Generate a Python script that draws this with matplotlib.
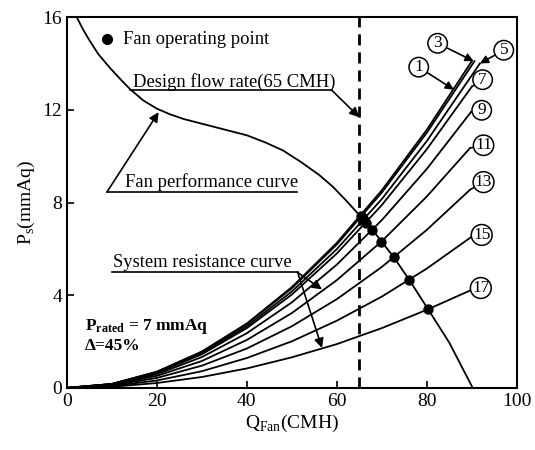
import matplotlib
matplotlib.use("Agg")
import matplotlib.pyplot as plt

plt.rcParams["font.family"] = ["Liberation Serif", "DejaVu Serif"]
plt.rcParams["mathtext.fontset"] = "custom"
plt.rcParams["mathtext.rm"] = "Liberation Serif"
plt.rcParams["mathtext.bf"] = "Liberation Serif:bold"

# fan performance curve
fan_q = [2.2, 3.5, 5, 7, 9.6, 12, 14, 17, 20, 23, 26, 30, 35, 40, 44, 48, 52, 56, 59, 62,
         65.5, 68, 70, 72.7, 76.1, 80.3, 85, 90.2]
fan_p = [16.0, 15.5, 15.0, 14.4, 13.8, 13.3, 12.9, 12.4, 12.05, 11.8, 11.6, 11.4, 11.15, 10.9,
         10.6, 10.25, 9.75, 9.2, 8.7, 8.1, 7.35, 6.8, 6.3, 5.63, 4.66, 3.39, 1.95, 0.0]

# system resistance curves, values at q_grid then an end point
curve_ids = ["1", "3", "5", "7", "9", "11", "13", "15", "17"]
q_grid = [0, 10, 20, 30, 40, 50, 60, 70, 80]
sr_p = [
    [0, 0.17, 0.70, 1.57, 2.78, 4.35, 6.26, 8.53, 11.14],
    [0, 0.17, 0.69, 1.55, 2.75, 4.30, 6.19, 8.43, 11.01],
    [0, 0.17, 0.67, 1.50, 2.66, 4.16, 5.99, 8.15, 10.65],
    [0, 0.16, 0.64, 1.45, 2.58, 4.03, 5.80, 7.89, 10.30],
    [0, 0.15, 0.59, 1.33, 2.36, 3.69, 5.32, 7.24, 9.45],
    [0, 0.13, 0.52, 1.16, 2.07, 3.23, 4.65, 6.33, 8.26],
    [0, 0.11, 0.43, 0.96, 1.70, 2.66, 3.83, 5.22, 6.82],
    [0, 0.08, 0.32, 0.72, 1.29, 2.01, 2.90, 3.94, 5.15],
    [0, 0.05, 0.21, 0.47, 0.84, 1.32, 1.89, 2.58, 3.37],
]
end_q = [90.0, 90.6, 91.8, 90.0, 89.8, 89.6, 89.6, 89.8, 89.6]
end_p = [14.1, 14.1, 14.0, 13.0, 11.9, 10.35, 8.55, 6.5, 4.2]

# operating points
op_q = [65.3, 65.5, 66.0, 66.5, 67.9, 69.9, 72.7, 76.1, 80.3]
op_p = [7.42, 7.38, 7.25, 7.12, 6.81, 6.31, 5.63, 4.66, 3.39]

# circled labels: position and where the leader hits the curve
label_xy = [(78.2, 13.84), (82.4, 14.87), (97.1, 14.57), (92.4, 13.3), (92.2, 11.98),
            (92.6, 10.47), (92.6, 8.88), (92.2, 6.6), (92.0, 4.31)]
label_tip = [(86.0, 12.87), (90.4, 14.1), (91.8, 14.0), (90.0, 13.0), (89.8, 11.9),
             (89.6, 10.35), (89.6, 8.55), (89.8, 6.5), (89.6, 4.2)]
arrow_ids = ["1", "3", "5"]

design_q = 65

fig = plt.figure(figsize=(5.35, 4.5), dpi=100)
ax = fig.add_axes([0.125, 0.138, 0.841, 0.824])

ax.plot(fan_q, fan_p, color="black", lw=1.3)
for cid, vals, eq, ep in zip(curve_ids, sr_p, end_q, end_p):
    ax.plot(q_grid + [eq], vals + [ep], color="black", lw=1.3)
ax.plot(op_q, op_p, "o", color="black", ms=6.5)
ax.axvline(design_q, color="black", lw=2, dashes=(4, 2.5))

for cid, (lx, ly), tip in zip(curve_ids, label_xy, label_tip):
    style = "-|>" if cid in arrow_ids else "-"
    ax.annotate(cid, xy=tip, xytext=(lx, ly), ha="center", va="center", fontsize=12.5,
                bbox=dict(boxstyle="circle,pad=0.1", fc="white", ec="black", lw=1.1),
                arrowprops=dict(arrowstyle=style, color="black", lw=1.2, shrinkA=0, shrinkB=0,
                                mutation_scale=12))

# legend dot
ax.plot([8.9], [15.04], "o", color="black", ms=7)
ax.text(12.4, 15.04, "Fan operating point", fontsize=13.4, va="center")

# design flow rate
ax.text(14.7, 12.97, "Design flow rate(65 CMH)", fontsize=13.4, va="baseline")
ax.plot([14.0, 58.9], [12.84, 12.84], color="black", lw=1.2)
ax.annotate("", xy=(65, 11.68), xytext=(58.9, 12.84),
            arrowprops=dict(arrowstyle="-|>", color="black", lw=1.2, shrinkA=0, shrinkB=0,
                            mutation_scale=14))

# fan performance curve
ax.text(12.9, 8.66, "Fan performance curve", fontsize=13.4, va="baseline")
ax.plot([8.9, 51.1], [8.45, 8.45], color="black", lw=1.2)
ax.annotate("", xy=(20.4, 11.9), xytext=(8.9, 8.45),
            arrowprops=dict(arrowstyle="-|>", color="black", lw=1.2, shrinkA=0, shrinkB=0,
                            mutation_scale=14))

# system resistance curve
ax.text(10.2, 5.2, "System resistance curve", fontsize=13.4, va="baseline")
ax.plot([10.0, 51.3], [4.98, 4.98], color="black", lw=1.2)
for tip in [(56.7, 4.25), (56.7, 1.72)]:
    ax.annotate("", xy=tip, xytext=(51.3, 4.98),
                arrowprops=dict(arrowstyle="-|>", color="black", lw=1.2, shrinkA=0, shrinkB=0,
                                mutation_scale=14))

ax.text(4.0, 2.5, r"$\mathbf{P_{rated}}$ = 7 mmAq", fontsize=12.5, fontweight="bold", va="baseline")
ax.text(4.0, 1.64, "Δ=45%", fontsize=12.5, fontweight="bold", va="baseline")

ax.set_xlim(0, 100)
ax.set_ylim(0, 16)
ax.set_xticks([0, 20, 40, 60, 80, 100])
ax.set_yticks([0, 4, 8, 12, 16])
ax.tick_params(direction="in", length=5, width=1.2, labelsize=14)
for s in ax.spines.values():
    s.set_linewidth(1.5)
ax.set_xlabel(r"Q$_{\mathrm{Fan}}$(CMH)", fontsize=14, labelpad=2)
ax.set_ylabel(r"P$_{\mathrm{s}}$(mmAq)", fontsize=14, labelpad=4)

fig.savefig("out.png", dpi=100)
